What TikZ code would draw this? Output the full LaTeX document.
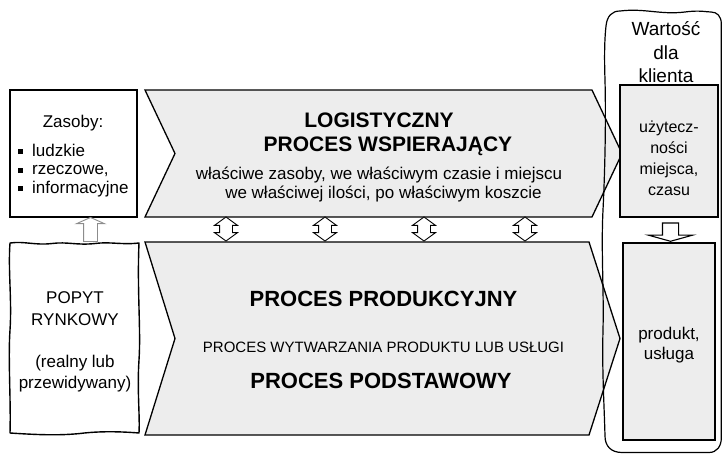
\documentclass[tikz,border=0pt]{standalone}
\usepackage{fontspec}
\setmainfont{Liberation Sans}
\usetikzlibrary{shapes.arrows}

\definecolor{procgray}{gray}{0.93}
\definecolor{hintgray}{gray}{0.55}

\newcommand{\sqbullet}{\rule[2pt]{5pt}{5pt}\hspace{9pt}}

\tikzset{
    box/.style={draw, line width=1.3pt, inner sep=0pt},
    proc/.style={draw, fill=procgray, line width=1.3pt, line join=miter},
    handline/.style={line width=1.4pt, line join=round},
    head/.style={font=\fontsize{21}{24}\selectfont\bfseries},
    darrow/.style={double arrow, draw, fill=white, line width=0.9pt, rotate=90,
        minimum height=24pt, minimum width=22pt, inner sep=6pt,
        double arrow head extend=5pt, double arrow tip angle=108},
}

\begin{document}
\begin{tikzpicture}[x=1pt, y=-1pt, font=\fontsize{17}{19}\selectfont]

\useasboundingbox (0,0) rectangle (723,455);

% resources
\node[box, minimum width=127pt, minimum height=127pt] (zasoby) at (73.5,153.5) {};
\node[anchor=base] (zasoby-title) at (73,127) {Zasoby:};
\foreach \kind [count=\i] in {ludzkie, {rzeczowe,}, informacyjne} {
    \node[anchor=base west, inner sep=0pt] (zasoby-\i) at (18,137.5+18.5*\i) {\sqbullet\kind};
}

% market demand, drawn by hand
\draw[handline] (10,243) .. controls (25,241) and (35,245.5) .. (52,243.5)
    .. controls (67,241.5) and (77,245.5) .. (95,243.5)
    .. controls (110,241.5) and (122,245) .. (139,243)
    .. controls (137,290) and (141,330) .. (139,360)
    .. controls (137,390) and (140,415) .. (139,433)
    .. controls (120,431.5) and (100,431) .. (80,433.5)
    .. controls (60,435.5) and (40,435) .. (10,433)
    .. controls (11,400) and (8,360) .. (10,330)
    .. controls (12,300) and (8,270) .. (10,243) -- cycle;
\foreach \txt/\y [count=\i] in {POPYT/303, RYNKOWY/325, {(realny lub}/367, {przewidywany)}/388} {
    \node[anchor=base] (demand-\i) at (75,\y) {\txt};
}

% demand feeds the resources
\node[single arrow, draw=hintgray, fill=white, line width=0.9pt, rotate=90,
    minimum height=24pt, minimum width=27pt, inner sep=6.5pt,
    single arrow head extend=7pt, single arrow tip angle=132] (demand-arrow) at (90.5,231) {};

% logistics process
\draw[proc] (145,90) -- (592,90) -- (622,153.5) -- (592,217) -- (145,217) -- (175,153.5) -- cycle;
\node[head, anchor=base] (logistics-1) at (379,127) {LOGISTYCZNY};
\node[head, anchor=base] (logistics-2) at (388,151) {PROCES WSPIERAJĄCY};
\node[anchor=base] (logistics-3) at (379,179) {właściwe zasoby, we właściwym czasie i miejscu};
\node[anchor=base] (logistics-4) at (383.5,198) {we właściwej ilości, po właściwym koszcie};

% production process
\draw[proc] (145,242) -- (589,242) -- (620,338.5) -- (589,435) -- (145,435) -- (175,338.5) -- cycle;
\node[head, font=\fontsize{22}{25}\selectfont\bfseries, anchor=base] (production-1) at (383.5,306) {PROCES PRODUKCYJNY};
\node[anchor=base, font=\fontsize{15}{18}\selectfont] (production-2) at (383.5,352) {PROCES WYTWARZANIA PRODUKTU LUB USŁUGI};
\node[head, font=\fontsize{22}{25}\selectfont\bfseries, anchor=base] (production-3) at (381,388) {PROCES PODSTAWOWY};

% links between the two processes
\foreach \x [count=\i] in {226, 325, 424, 525} {
    \node[darrow] (link-\i) at (\x,229) {};
}

% customer value
\foreach \txt [count=\i] in {Wartość, dla, klienta} {
    \node[anchor=base, font=\fontsize{19}{22}\selectfont] (value-\i) at (666,12+23.5*\i) {\txt};
}

\node[box, fill=procgray, minimum width=98pt, minimum height=132pt] (utility) at (669,151) {};
\foreach \txt [count=\i] in {użytecz-, ności, {miejsca,}, czasu} {
    \node[anchor=base, font=\fontsize{16}{19}\selectfont] (utility-\i) at (669,111+21*\i) {\txt};
}

\node[single arrow, draw, fill=white, line width=1.1pt, rotate=-90,
    minimum height=16pt, minimum width=43pt, inner sep=7.5pt,
    single arrow head extend=14pt, single arrow tip angle=149] (value-arrow) at (670.5,231) {};

\node[box, fill=procgray, minimum width=92pt, minimum height=197pt] (product) at (669,341.5) {};
\node[anchor=base] (product-1) at (669,339) {produkt,};
\node[anchor=base] (product-2) at (669,359) {usługa};

% frame round the customer side, drawn by hand
\draw[handline, line width=1.2pt] (620,11) .. controls (645,8) and (660,15) .. (685,12)
    .. controls (700,10) and (706,12) .. (711,12)
    .. controls (717,12) and (721.3,16) .. (721.3,24)
    -- (721.3,438)
    .. controls (721.3,446) and (717,452.5) .. (709,452.5)
    -- (622,452.5)
    .. controls (611,452.5) and (605,446) .. (605,436)
    .. controls (604,400) and (602,370) .. (603,330)
    .. controls (604,290) and (601,250) .. (603,210)
    .. controls (605,170) and (606,120) .. (605,80)
    .. controls (604,50) and (605,35) .. (606,26)
    .. controls (607,16) and (612,11) .. (620,11) -- cycle;

\end{tikzpicture}
\end{document}
